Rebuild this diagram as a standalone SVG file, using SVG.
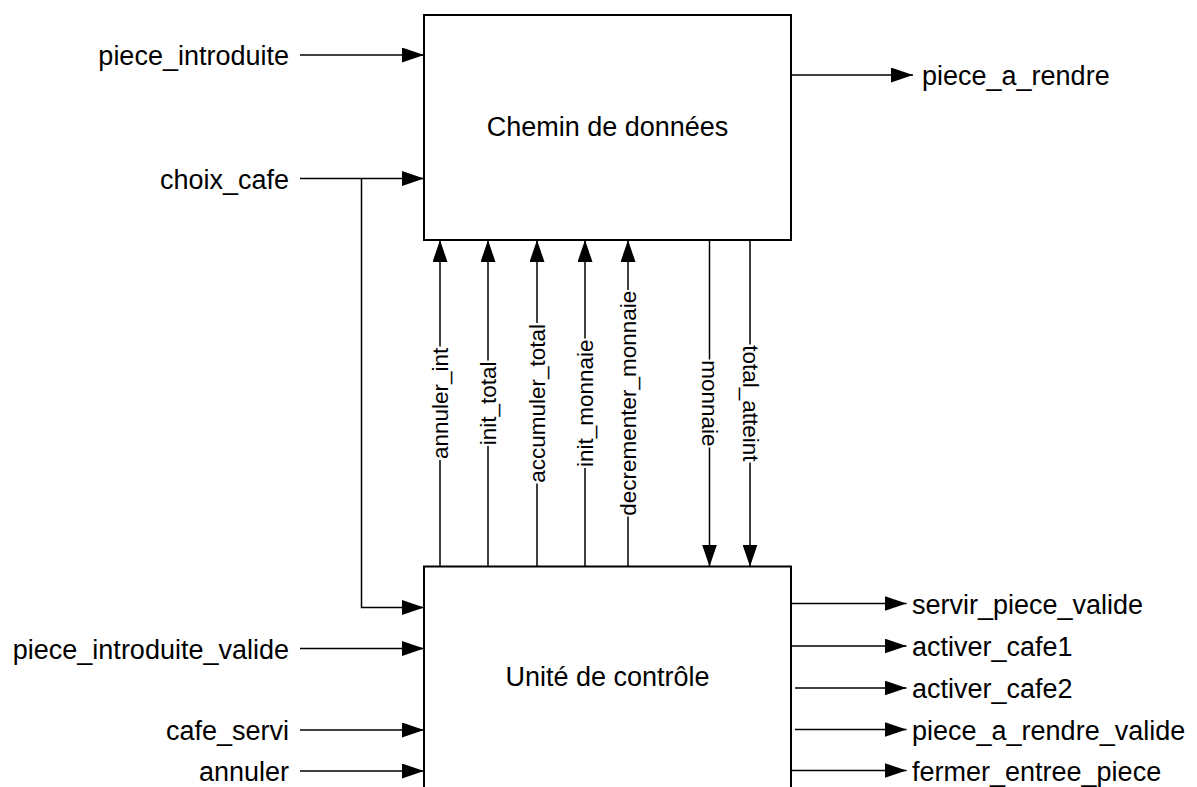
<svg xmlns="http://www.w3.org/2000/svg" width="1197" height="787" viewBox="0 0 1197 787">
  <style>
    .box { fill: #ffffff; stroke: #000000; stroke-width: 2; }
    .wire { fill: none; stroke: #000000; stroke-width: 1.5; }
    .arrow { fill: none; stroke: #000000; stroke-width: 1.5; marker-end: url(#head); }
    .lbl { font-family: "Liberation Sans", Arial, sans-serif; font-size: 27px; fill: #000000; }
    .vlbl { font-family: "Liberation Sans", Arial, sans-serif; font-size: 22.5px; fill: #000000; text-anchor: middle; }
    .end { text-anchor: end; }
    .mid { text-anchor: middle; }
  </style>
  <defs>
    <marker id="head" markerUnits="userSpaceOnUse" markerWidth="22" markerHeight="15" refX="22" refY="7.5" orient="auto">
      <path d="M0,0 L22,7.5 L0,15 Z" fill="#000000"/>
    </marker>
  </defs>
  <rect width="1197" height="787" fill="#ffffff"/>

  <!-- blocks -->
  <g id="chemin-de-donnees">
    <rect class="box" x="424" y="15" width="367" height="225"/>
    <text class="lbl mid" x="607.5" y="136">Chemin de données</text>
  </g>
  <g id="unite-de-controle">
    <rect class="box" x="424" y="566.5" width="367" height="240"/>
    <text class="lbl mid" x="607.5" y="686">Unité de contrôle</text>
  </g>

  <!-- signals -->
  <g id="connectors">
    <!-- external inputs -->
    <line class="arrow" x1="300" y1="55" x2="424" y2="55"/>
    <line class="arrow" x1="300" y1="178.5" x2="424" y2="178.5"/>
    <polyline class="arrow" points="361.5,178.5 361.5,607.5 424,607.5"/>
    <line class="arrow" x1="300" y1="648.5" x2="424" y2="648.5"/>
    <line class="arrow" x1="300" y1="730" x2="424" y2="730"/>
    <line class="arrow" x1="300" y1="771" x2="424" y2="771"/>

    <!-- external outputs -->
    <line class="arrow" x1="791" y1="75" x2="913" y2="75"/>
    <line class="arrow" x1="791" y1="603.5" x2="906.5" y2="603.5"/>
    <line class="arrow" x1="791" y1="646" x2="906.5" y2="646"/>
    <line class="arrow" x1="795" y1="688" x2="906.5" y2="688"/>
    <line class="arrow" x1="795" y1="729.5" x2="906.5" y2="729.5"/>
    <line class="arrow" x1="791" y1="770.5" x2="906.5" y2="770.5"/>

    <!-- control unit to datapath -->
    <line class="wire" x1="440" y1="566.5" x2="440" y2="460"/>
    <line class="arrow" x1="440" y1="346.5" x2="440" y2="240"/>
    <line class="wire" x1="488" y1="566.5" x2="488" y2="446"/>
    <line class="arrow" x1="488" y1="360.5" x2="488" y2="240"/>
    <line class="wire" x1="537" y1="566.5" x2="537" y2="483.5"/>
    <line class="arrow" x1="537" y1="323" x2="537" y2="240"/>
    <line class="wire" x1="585" y1="566.5" x2="585" y2="468"/>
    <line class="arrow" x1="585" y1="338.5" x2="585" y2="240"/>
    <line class="wire" x1="628" y1="566.5" x2="628" y2="516.5"/>
    <line class="arrow" x1="628" y1="290" x2="628" y2="240"/>

    <!-- datapath to control unit -->
    <line class="wire" x1="709.5" y1="240" x2="709.5" y2="359.5"/>
    <line class="arrow" x1="709.5" y1="447.5" x2="709.5" y2="566.5"/>
    <line class="wire" x1="750" y1="240" x2="750" y2="344.5"/>
    <line class="arrow" x1="750" y1="462.5" x2="750" y2="566.5"/>
  </g>

  <!-- signal names -->
  <g id="signal-labels">
    <text class="lbl end" x="289" y="65">piece_introduite</text>
    <text class="lbl end" x="289" y="188.5">choix_cafe</text>
    <text class="lbl end" x="289" y="658.5">piece_introduite_valide</text>
    <text class="lbl end" x="289" y="740">cafe_servi</text>
    <text class="lbl end" x="289" y="781">annuler</text>

    <text class="lbl" x="922" y="85">piece_a_rendre</text>
    <text class="lbl" x="912" y="613.5">servir_piece_valide</text>
    <text class="lbl" x="912" y="656">activer_cafe1</text>
    <text class="lbl" x="912" y="698">activer_cafe2</text>
    <text class="lbl" x="912" y="739.5">piece_a_rendre_valide</text>
    <text class="lbl" x="912" y="780.5">fermer_entree_piece</text>

    <text class="vlbl" transform="translate(440,403.3) rotate(-90)" y="7.5">annuler_int</text>
    <text class="vlbl" transform="translate(488,403.3) rotate(-90)" y="7.5">init_total</text>
    <text class="vlbl" transform="translate(537,403.3) rotate(-90)" y="7.5">accumuler_total</text>
    <text class="vlbl" transform="translate(585,403.3) rotate(-90)" y="7.5">init_monnaie</text>
    <text class="vlbl" transform="translate(628,403.3) rotate(-90)" y="7.5">decrementer_monnaie</text>
    <text class="vlbl" transform="translate(709.5,403.3) rotate(90)" y="7.5">monnaie</text>
    <text class="vlbl" transform="translate(750,403.3) rotate(90)" y="7.5">total_atteint</text>
  </g>
</svg>
